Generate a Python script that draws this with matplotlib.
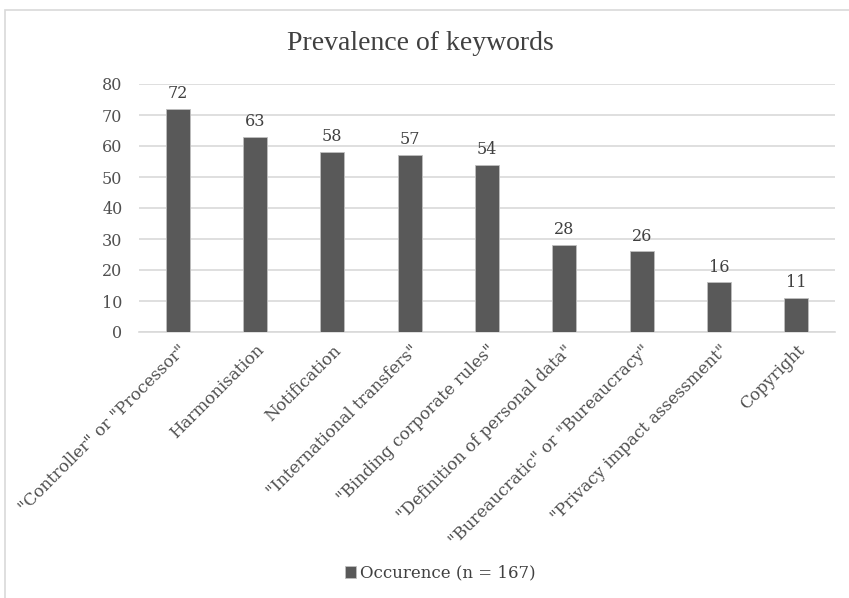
import numpy as np
import matplotlib.pyplot as plt
from matplotlib.patches import Rectangle

plt.rcParams['font.family'] = ['DejaVu Serif']

# keyword counts
keywords = ['"Controller" or "Processor"', 'Harmonisation', 'Notification',
            '"International transfers"', '"Binding corporate rules"',
            '"Definition of personal data"', '"Bureaucratic" or "Bureaucracy"',
            '"Privacy impact assessment"', 'Copyright']
occurence = [72, 63, 58, 57, 54, 28, 26, 16, 11]
series_name = 'Occurence (n = 167)'

bar_color = '#595959'
grid_color = '#d9d9d9'
text_color = '#505050'

fig = plt.figure(figsize=(8.49, 5.98), dpi=100)
# chart frame
fig.patches.append(Rectangle((5 / 849, -0.1), 1.2, 1 - 10 / 598 + 0.1,
                             transform=fig.transFigure, fill=False,
                             edgecolor='#d9d9d9', linewidth=1.2))

ax = fig.add_axes([139 / 849, 1 - 332 / 598, (835 - 139) / 849, (332 - 84) / 598])
x = np.arange(len(keywords))
bars = ax.bar(x, occurence, width=0.31, color=bar_color, edgecolor='#bfbfbf',
              linewidth=0.6, zorder=3, label=series_name)
for xi, v in zip(x, occurence):
    ax.text(xi, v + 2.2, str(v), ha='center', va='bottom', fontsize=11.5, color='#404040')

ax.set_xlim(-0.5, len(keywords) - 0.5)
ax.set_ylim(0, 80)
ax.set_yticks(range(0, 81, 10))
ax.yaxis.grid(True, color=grid_color, linewidth=1.2, zorder=0)
for s in ['top', 'right', 'left']:
    ax.spines[s].set_visible(False)
ax.spines['bottom'].set_color(grid_color)
ax.spines['bottom'].set_linewidth(1.2)
ax.tick_params(axis='both', length=0, labelsize=11.5, labelcolor=text_color)
ax.tick_params(axis='y', pad=12)
ax.set_xticks(x)
ax.set_xticklabels(keywords, rotation=45, ha='right', rotation_mode='anchor', fontsize=12)
ax.tick_params(axis='x', pad=7)

fig.text(420 / 849, 1 - 44 / 598, 'Prevalence of keywords', ha='center', va='center',
         fontsize=20, color='#404040', family='Liberation Serif')

fig.legend(handles=[bars], labels=[series_name], loc='center',
           bbox_to_anchor=(440 / 849, 1 - 573 / 598), frameon=False,
           fontsize=12, handlelength=0.7, handleheight=0.7, handletextpad=0.2,
           labelcolor='#404040')

plt.savefig('out.png', dpi=100)
